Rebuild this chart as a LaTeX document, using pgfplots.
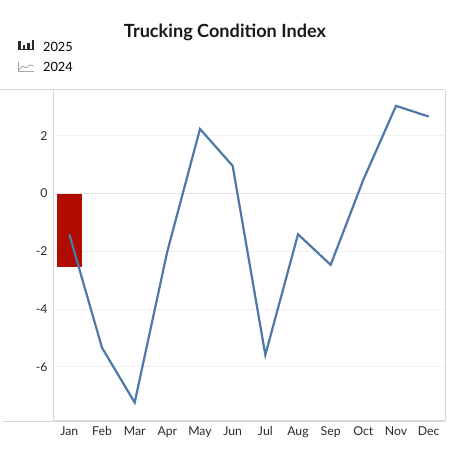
\documentclass[border=0pt]{standalone}
\usepackage{fontspec}
\setmainfont{Lato}
\usepackage{pgfplots}
\pgfplotsset{compat=1.18}
\definecolor{barred}{HTML}{B00C00}
\definecolor{lineblue}{HTML}{4E78A8}
\definecolor{gridc}{HTML}{F0F0F0}
\definecolor{axc}{HTML}{D6D6D6}
\definecolor{txt}{HTML}{2A2A2A}
\begin{document}
\begin{tikzpicture}[x=1bp,y=1bp]
\useasboundingbox (0,0) rectangle (450,450);
\node[font=\fontsize{18.2}{21}\selectfont\bfseries, text=black!90] at (225,418) {Trucking Condition Index};
% legend
\fill[txt] (18,401) rectangle (20.5,409);
\fill[txt] (22.5,401) rectangle (25,405);
\fill[txt] (27,401) rectangle (29.5,407);
\fill[txt] (31.5,401) rectangle (34,409.5);
\fill[txt] (18,399.5) rectangle (34,401);
\node[anchor=west, inner sep=0, font=\fontsize{12.8}{14}\selectfont, text=black] at (43,403.5) {2025};
\draw[gray!70, line width=0.8] (18,388) -- (18,378.5) -- (34,378.5);
\draw[gray!70, line width=0.8] (19,380.5) -- (23,384) -- (26,382) -- (30,385) -- (34,384);
\node[anchor=west, inner sep=0, font=\fontsize{12.8}{14}\selectfont, text=black] at (43,383) {2024};
% frame lines
\draw[axc, line width=1] (0,360) -- (445,360);
\draw[axc, line width=1] (445,360) -- (445,29);
\draw[axc, line width=1] (3,29) -- (445,29);
\begin{axis}[
  at={(53bp,29bp)}, anchor=south west,
  scale only axis, width=392bp, height=331bp,
  xmin=-0.5, xmax=11.5, ymin=-7.88, ymax=3.59,
  axis x line*=bottom, axis y line*=left,
  axis line style={axc, line width=1bp, -},
  xtick={0,...,11},
  xticklabels={Jan,Feb,Mar,Apr,May,Jun,Jul,Aug,Sep,Oct,Nov,Dec},
  ytick={-6,-4,-2,0,2},
  major tick length=0pt,
  ymajorgrids, grid style={gridc, line width=0.8bp},
  extra y ticks={0}, extra y tick labels={},
  extra y tick style={grid style={gray!30, densely dotted, line width=0.8bp}},
  tick label style={font=\fontsize{12.3}{14}\selectfont, text=txt},
  xticklabel style={yshift=-2bp},
  yticklabel style={xshift=-2bp},
  /pgf/number format/assume math mode=true,
  clip=false,
]
\addplot[ybar, bar width=24.7bp, fill=barred, draw=none] coordinates {(0,-2.55)};
\addplot[lineblue, line width=2.2bp, mark=none, line join=miter] coordinates {
(0,-1.41) (1,-5.34) (2,-7.24) (3,-2.0) (4,2.24) (5,0.96)
(6,-5.59) (7,-1.41) (8,-2.47) (9,0.48) (10,3.04) (11,2.67)};
\end{axis}
\end{tikzpicture}
\end{document}
